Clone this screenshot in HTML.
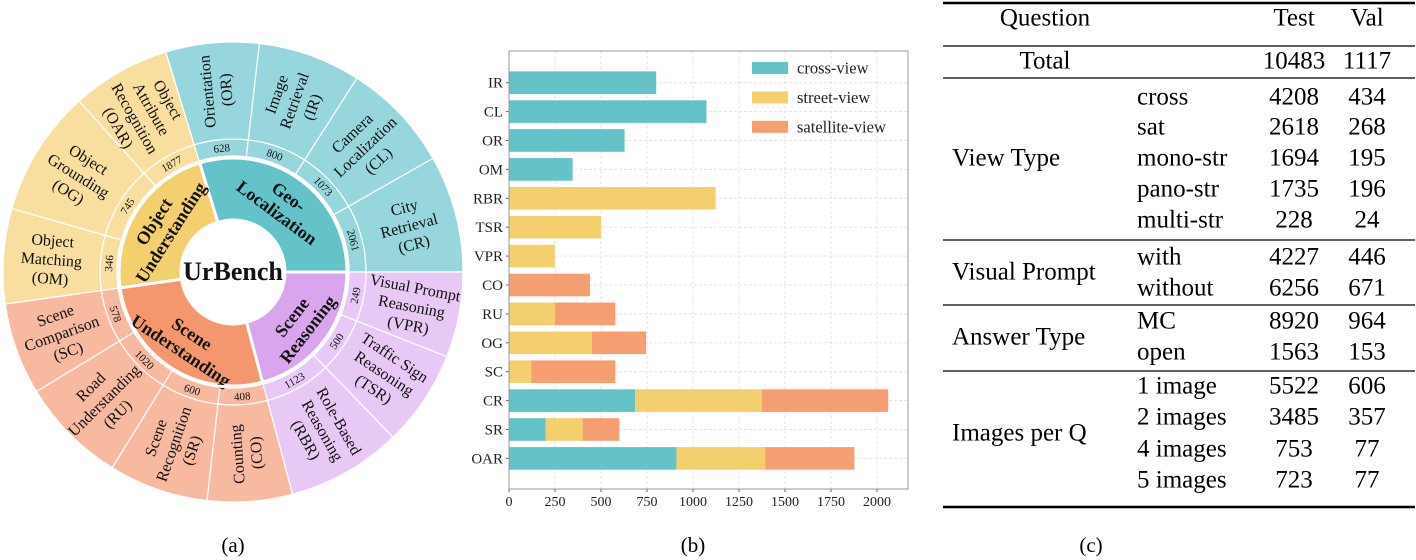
<!DOCTYPE html>
<html><head><meta charset="utf-8"><style>
html,body{margin:0;padding:0;background:#fff;}
svg{display:block;font-family:"Liberation Serif",serif;}
</style></head><body>
<svg id="fig" width="1416" height="560" viewBox="0 0 1416 560" xmlns="http://www.w3.org/2000/svg">
<g id="sun"></g>
<g id="bar"></g>
<g id="tbl"></g>
<text x="233" y="552" font-size="21" text-anchor="middle">(a)</text>
<text x="693" y="552" font-size="21" text-anchor="middle">(b)</text>
<text x="1091" y="552" font-size="21" text-anchor="middle">(c)</text>
</svg>
<script>
const NS="http://www.w3.org/2000/svg";
function mk(tag,attrs,parent){const e=document.createElementNS(NS,tag);for(const k in attrs)e.setAttribute(k,attrs[k]);parent.appendChild(e);return e;}

// ---------- Sunburst data ----------
const groupNames=[["Geo-","Localization"],["Scene","Reasoning"],["Scene","Understanding"],["Object","Understanding"]];
const taskLabels=[["Orientation","(OR)"],["Image","Retrieval","(IR)"],["Camera","Localization","(CL)"],["City","Retrieval","(CR)"],
["Visual Prompt","Reasoning","(VPR)"],["Traffic Sign","Reasoning","(TSR)"],["Role-Based","Reasoning","(RBR)"],
["Counting","(CO)"],["Scene","Recognition","(SR)"],["Road","Understanding","(RU)"],["Scene","Comparison","(SC)"],
["Object","Matching","(OM)"],["Object","Grounding","(OG)"],["Object","Attribute","Recognition","(OAR)"]];
const taskCounts=[628,800,1073,2061,249,500,1123,408,600,1020,578,346,745,1877];
const taskGroup=[0,0,0,0,1,1,1,2,2,2,2,3,3,3];
const taskSpanDeg=[23.6,26,27.8,29.6,21.6,24.3,29.1,21.5,25.2,27,23.3,24,32,25];

const sun=document.getElementById('sun');
const cx=233,cy=272,r0=52,r1=114,r2=116,r3=133,r4=230;
const innerCol=["#64c2c9","#d9a6ee","#f4976e","#f3cf6e"];
const outerCol=["#96d6dc","#e8c9f5","#f7b9a0","#f8dfa0"];
function P(r,a){const t=a*Math.PI/180;return [cx+r*Math.sin(t),cy-r*Math.cos(t)];}
function arc(ri,ro,a0,a1){const L=(a1-a0)>180?1:0;const p0=P(ro,a0),p1=P(ro,a1),p2=P(ri,a1),p3=P(ri,a0);
return `M${p0[0]},${p0[1]}A${ro},${ro} 0 ${L} 1 ${p1[0]},${p1[1]}L${p2[0]},${p2[1]}A${ri},${ri} 0 ${L} 0 ${p3[0]},${p3[1]}Z`;}
function norm(a){a=((a%360)+360)%360;return a;}
function tang(a){a=norm(a);if(a>90&&a<=270)return a-180;if(a>270)return a-360;return a;}
function multiText(lines,x,y,rot,size,weight,name,lh){
  const t=mk('text',{x:x,y:y,'font-size':size,'text-anchor':'middle','font-weight':weight,transform:`rotate(${rot} ${x} ${y})`,fill:'#111'},sun);
  
  
  const n=lines.length;
  lines.forEach((s,i)=>{const ts=mk('tspan',{x:x,y:y+(i-(n-1)/2)*lh+size*0.35},t);ts.textContent=s;});
}
let start=-17;
const gStart=[],gEnd=[];
for(let i=0;i<taskCounts.length;i++){
  const a0=start,a1=start+taskSpanDeg[i],g=taskGroup[i],mid=(a0+a1)/2;
  if(gStart[g]===undefined)gStart[g]=a0;gEnd[g]=a1;
  const ring=mk('path',{d:arc(r2,r3,a0,a1),fill:outerCol[g],stroke:'#fff','stroke-width':1.2},sun);
  
  
  const w=mk('path',{d:arc(r3,r4,a0,a1),fill:outerCol[g],stroke:'#fff','stroke-width':1.2},sun);
  
  
  const pn=P(124.5,mid);
  multiText([String(taskCounts[i])],pn[0],pn[1],tang(mid),11,'normal','count-label',11);
  const pl=P(182,mid);const m=norm(mid);
  const rot=(m<170)?m-90:(m>340?m-450:m-270);
  multiText(taskLabels[i],pl[0],pl[1],rot,16,'normal','task-label',19);
  start=a1;
}
for(let g=0;g<4;g++){
  const p=mk('path',{d:arc(r0,r1,gStart[g],gEnd[g]),fill:innerCol[g],stroke:'#fff','stroke-width':3},sun);
  
  
  const mid=(gStart[g]+gEnd[g])/2,pc=P(84,mid);
  multiText(groupNames[g],pc[0],pc[1],tang(mid),18,'bold','category-label',20);
}
mk('circle',{cx:cx,cy:cy,r:r1+1,fill:'none',stroke:'#fff','stroke-width':3},sun);
mk('circle',{cx:cx,cy:cy,r:r0,fill:'#fff'},sun);
multiText(["UrBench"],cx,cy-1,0,26,'bold','center-title',26);

// ---------- Bar chart data ----------
const barCats=["IR","CL","OR","OM","RBR","TSR","VPR","CO","RU","OG","SC","CR","SR","OAR"];
const crossVals=[800,1073,628,346,0,0,0,0,0,0,0,685,200,910];
const streetVals=[0,0,0,0,1123,500,249,0,250,450,122,690,200,483];
const satVals=[0,0,0,0,0,0,0,440,328,295,456,686,200,484];
const xTicks=[0,250,500,750,1000,1250,1500,1750,2000];
const seriesNames=["cross-view","street-view","satellite-view"];
const seriesCols=["#64c2c9","#f3cf6e","#f49e72"];

const bar=document.getElementById('bar');
const L=509,R=908,T=51,B=489;
function xs(v){return L+v*(368/2000);}
function ys(i){return 82.7+i*28.9;}
xTicks.forEach(v=>{const l=mk('line',{x1:xs(v),x2:xs(v),y1:T,y2:B,stroke:'#e3e3e3','stroke-dasharray':'3,2','stroke-width':1},bar);
});
barCats.forEach((c,i)=>{const l=mk('line',{x1:L,x2:R,y1:ys(i),y2:ys(i),stroke:'#e3e3e3','stroke-dasharray':'3,2','stroke-width':1},bar);
});
const series=[crossVals,streetVals,satVals];
barCats.forEach((c,i)=>{
  let acc=0;
  series.forEach((s,k)=>{ if(s[i]>0){
    const r=mk('rect',{x:xs(acc),y:ys(i)-11.3,width:xs(acc+s[i])-xs(acc),height:22.6,fill:seriesCols[k]},bar);
    
    
    acc+=s[i];}});
  const t=mk('text',{x:L-6,y:ys(i)+5,'font-size':15,'text-anchor':'end',fill:'#222'},bar);t.textContent=c;
  
  mk('line',{x1:L-3,x2:L,y1:ys(i),y2:ys(i),stroke:'#666'},bar);
});
xTicks.forEach(v=>{const t=mk('text',{x:xs(v),y:B+17,'font-size':14,'text-anchor':'middle',fill:'#222'},bar);t.textContent=v;

mk('line',{x1:xs(v),x2:xs(v),y1:B,y2:B+3,stroke:'#666'},bar);});
const fr=mk('rect',{x:L,y:T,width:R-L,height:B-T,fill:'none',stroke:'#999','stroke-width':1},bar);

seriesNames.forEach((n,k)=>{
  const sw=mk('rect',{x:752,y:68+k*29.4-6,width:36,height:12,fill:seriesCols[k]},bar);
  
  const t=mk('text',{x:797,y:68+k*29.4+5.5,'font-size':16.5,fill:'#222'},bar);t.textContent=n;
  
});

// ---------- Table ----------
const tbl=document.getElementById('tbl');
function tx(s,x,y,anchor,name){const t=mk('text',{x:x,y:y+8.5,'font-size':25,'text-anchor':anchor,fill:'#000'},tbl);t.textContent=s;
}
function hl(y,w,name){const l=mk('line',{x1:943,x2:1415,y1:y,y2:y,stroke:'#000','stroke-width':w},tbl);
}
hl(3,2.5,'top-rule');hl(46,1.3,'header-rule');hl(78,1.3,'rule');hl(240,1.3,'rule');hl(305,1.3,'rule');hl(371,1.3,'rule');hl(507,2.5,'bottom-rule');
tx("Question",1045,17,'middle','header-question');tx("Test",1294,17,'middle','header-test');tx("Val",1367,17,'middle','header-val');
tx("Total",1045,60,'middle','row-total');tx("10483",1294,60,'middle','cell');tx("1117",1367,60,'middle','cell');
const rows=[["cross","4208","434",96],["sat","2618","268",126],["mono-str","1694","195",157],["pano-str","1735","196",188],["multi-str","228","24",219],
["with","4227","446",256],["without","6256","671",287],["MC","8920","964",320],["open","1563","153",351],
["1 image","5522","606",385],["2 images","3485","357",416],["4 images","753","77",448],["5 images","723","77",479]];
rows.forEach(r=>{tx(r[0],1137,r[3],'start','row-label');tx(r[1],1294,r[3],'middle','cell-test');tx(r[2],1367,r[3],'middle','cell-val');});
tx("View Type",952,157,'start','group-view-type');tx("Visual Prompt",952,271,'start','group-visual-prompt');
tx("Answer Type",952,336,'start','group-answer-type');tx("Images per Q",952,432,'start','group-images-per-q');
</script>
</body></html>
